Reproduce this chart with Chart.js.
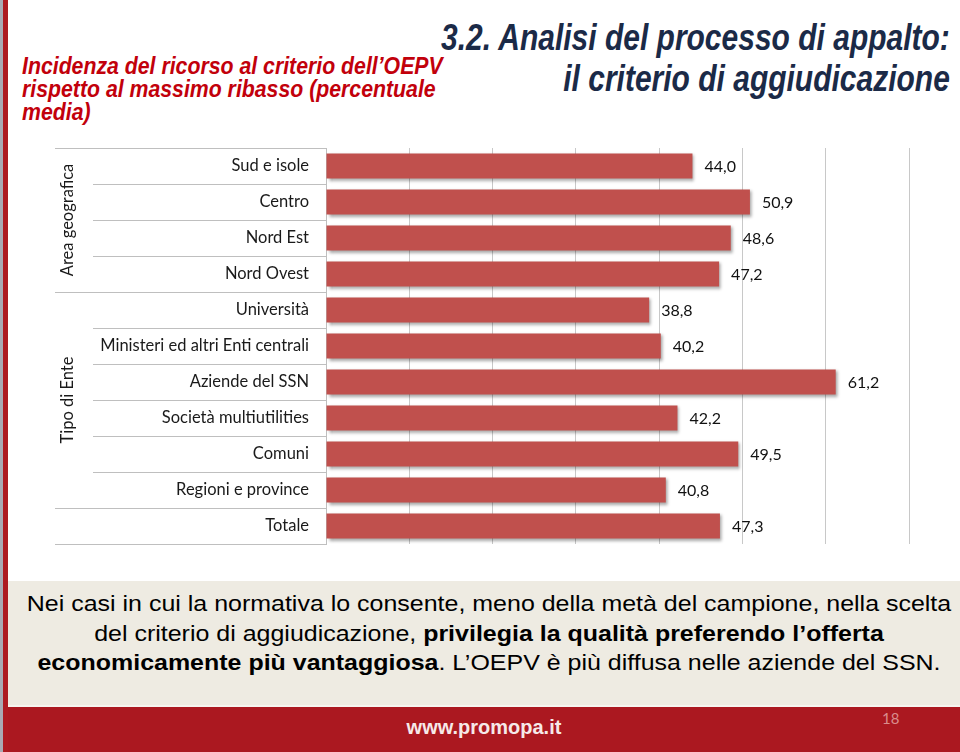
<!DOCTYPE html>
<html>
<head>
<meta charset="utf-8">
<script src="https://cdn.jsdelivr.net/npm/chart.js@4.4.0/dist/chart.umd.min.js"></script>
<style>
  body { margin: 0; background: #fff; }
  #slide { position: relative; width: 960px; height: 752px; overflow: hidden; background: #fff; }
  #stripeGray { position: absolute; left: 0; top: 0; width: 3px; height: 752px; background: #a9aab4; }
  #stripeRed { position: absolute; left: 3px; top: 0; width: 5px; height: 752px; background: #ad1a21; }
  #title { position: absolute; right: 10px; top: 17px; text-align: right; white-space: nowrap;
    font: italic bold 36px 'Liberation Sans', sans-serif; line-height: 41px; color: #1b2a47;
    transform: scaleX(0.833); transform-origin: right top; }
  #subtitle { position: absolute; left: 22px; top: 54px; white-space: nowrap;
    font: italic bold 24px 'Liberation Sans', sans-serif; line-height: 23px; color: #c2000b;
    transform: scaleX(0.886); transform-origin: left top; }
  #chartBox { position: absolute; left: 0; top: 140px; width: 960px; height: 420px; }
  #note { position: absolute; left: 8px; top: 581px; width: 952px; height: 124px; background: #eeebe2; }
  #noteText { position: absolute; left: 13px; top: 589px; width: 952px; text-align: center; white-space: nowrap;
    font: 22px 'Liberation Sans', Arial, sans-serif; line-height: 29.5px; color: #000;
    transform: scaleX(1.135); transform-origin: center top; }
  #sep { position: absolute; left: 8px; top: 705px; width: 952px; height: 2px; background: #f6f4ef; }
  #footer { position: absolute; left: 8px; top: 707px; width: 952px; height: 45px; background: #ab1820; }
  #site { position: absolute; left: 8px; width: 952px; top: 716px; text-align: center;
    font: bold 20px 'Liberation Sans', Arial, sans-serif; color: #f6e9e9; }
  #page { position: absolute; left: 882px; top: 709px; font: 15px Lato, sans-serif; color: #d98c8c; }
</style>
</head>
<body>
<div id="slide">
  <div id="stripeGray"></div>
  <div id="stripeRed"></div>
  <div id="title">3.2. Analisi del processo di appalto:<br>il criterio di aggiudicazione</div>
  <div id="subtitle">Incidenza del ricorso al criterio dell’OEPV<br>rispetto al massimo ribasso (percentuale<br>media)</div>
  <div id="chartBox"><canvas id="myChart" width="960" height="420"></canvas></div>
  <div id="note"></div>
  <div id="noteText">Nei casi in cui la normativa lo consente, meno della metà del campione, nella scelta<br>del criterio di aggiudicazione, <b>privilegia la qualità preferendo l’offerta</b><br><b>economicamente più vantaggiosa</b>. L’OEPV è più diffusa nelle aziende del SSN.</div>
  <div id="sep"></div>
  <div id="footer"></div>
  <div id="site">www.promopa.it</div>
  <div id="page">18</div>
</div>
<script>
// categories, top to bottom
var labels = ['Sud e isole', 'Centro', 'Nord Est', 'Nord Ovest', 'Università',
  'Ministeri ed altri Enti centrali', 'Aziende del SSN', 'Società multiutilities',
  'Comuni', 'Regioni e province', 'Totale'];
// % OEPV
var values = [44.0, 50.9, 48.6, 47.2, 38.8, 40.2, 61.2, 42.2, 49.5, 40.8, 47.3];
// grouping of the rows (first and last index)
var groupNames = ['Area geografica', 'Tipo di Ente'];
var groupFirst = [0, 4];
var groupLast = [3, 9];

var labelFont = '16.5px Lato, sans-serif';

// table lines + group titles on the left
const tablePlugin = {
    id: 'tablePlugin',
    afterDraw: function (chart) {
        var ctx = chart.ctx;
        var y = chart.scales.y;
        var n = labels.length;
        var h = (y.bottom - y.top) / n;
        var right = chart.chartArea.left;
        ctx.save();
        ctx.strokeStyle = '#bfbfbf';
        ctx.lineWidth = 1;
        for (var k = 0; k <= n; k++) {
            var py = Math.round(y.top + k * h) + 0.5;
            var start = 93;
            if (k == 0 || k == n || groupFirst.indexOf(k) >= 0 || groupLast.indexOf(k - 1) >= 0) {
                start = 55;
            }
            ctx.beginPath();
            ctx.moveTo(start, py);
            ctx.lineTo(right, py);
            ctx.stroke();
        }
        ctx.fillStyle = '#1a1a1a';
        ctx.font = labelFont;
        ctx.textAlign = 'center';
        ctx.textBaseline = 'middle';
        for (var g = 0; g < groupNames.length; g++) {
            var cy = (y.top + groupFirst[g] * h + y.top + (groupLast[g] + 1) * h) / 2;
            ctx.save();
            ctx.translate(68, cy);
            ctx.rotate(-Math.PI / 2);
            ctx.fillText(groupNames[g], 0, 0);
            ctx.restore();
        }
        ctx.restore();
    }
};

// soft shadow under bars
const shadowPlugin = {
    id: 'shadowPlugin',
    beforeDatasetDraw: function (chart) {
        var ctx = chart.ctx;
        ctx.save();
        ctx.shadowColor = 'rgba(0,0,0,0.35)';
        ctx.shadowBlur = 3;
        ctx.shadowOffsetX = 2;
        ctx.shadowOffsetY = 2;
    },
    afterDatasetDraw: function (chart) {
        chart.ctx.restore();
    }
};

// value labels at bar ends
const valuePlugin = {
    id: 'valuePlugin',
    afterDatasetsDraw: function (chart) {
        var ctx = chart.ctx;
        var meta = chart.getDatasetMeta(0);
        ctx.save();
        ctx.fillStyle = '#111';
        ctx.font = '16px Lato, sans-serif';
        ctx.textAlign = 'left';
        ctx.textBaseline = 'middle';
        meta.data.forEach(function (bar, i) {
            var txt = values[i].toFixed(1).replace('.', ',');
            ctx.fillText(txt, bar.x + 12, bar.y + 1);
        });
        ctx.restore();
    }
};

const data = {
    labels: labels,
    datasets: [{
        label: 'OEPV',
        backgroundColor: '#c0504d',
        borderWidth: 0,
        data: values,
        barPercentage: 0.7,
        categoryPercentage: 1.0
    }]
};

const config = {
    type: 'bar',
    data: data,
    options: {
        indexAxis: 'y',
        responsive: false,
        devicePixelRatio: 1,
        animation: false,
        layout: { padding: { top: 8, right: 51, bottom: 16, left: 0 } },
        plugins: { legend: { display: false }, tooltip: { enabled: false } },
        scales: {
            x: {
                min: 0,
                max: 70,
                ticks: { display: false, stepSize: 10 },
                grid: { color: '#c8c8c8', drawTicks: false },
                border: { display: false },
                afterFit: function (scale) {
                    scale.height = 0;
                    scale.paddingLeft = 0;
                    scale.paddingRight = 0;
                }
            },
            y: {
                ticks: { font: { family: 'Lato', size: 16.5 }, color: '#1a1a1a', padding: 17 },
                grid: { display: false, drawTicks: false },
                border: { display: true, color: '#bfbfbf' },
                afterFit: function (scale) {
                    scale.width = 326;
                    scale.paddingTop = 0;
                    scale.paddingBottom = 0;
                }
            }
        }
    },
    plugins: [tablePlugin, shadowPlugin, valuePlugin]
};

const myChart = new Chart(document.getElementById('myChart'), config);
</script>
</body>
</html>
